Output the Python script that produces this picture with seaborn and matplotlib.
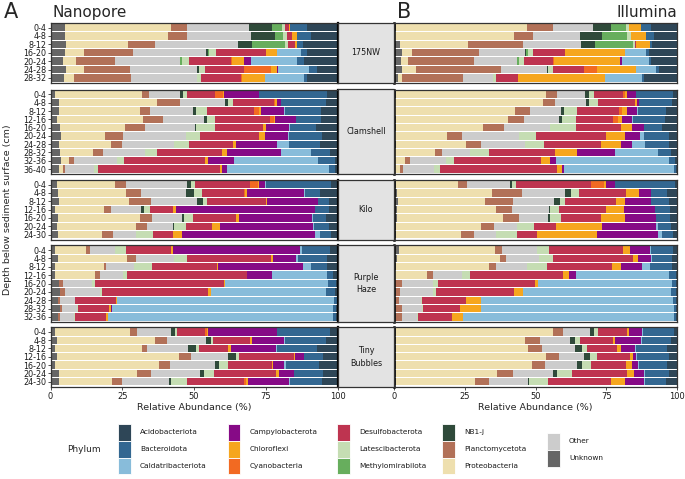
import numpy as np
import pandas as pd
import matplotlib.pyplot as plt
from matplotlib.patches import Rectangle
import seaborn as sns

# stacking order, left to right
phyla = ["Unknown", "Proteobacteria", "Planctomycetota", "Other", "NB1-j",
         "Methylomirabilota", "Latescibacterota", "Desulfobacterota",
         "Cyanobacteria", "Chloroflexi", "Campylobacterota",
         "Caldatribacteriota", "Bacteroidota", "Acidobacteriota"]
colors = ["#666666", "#EEDFAE", "#B27158", "#CCCCCC", "#2F4A3A",
          "#67AE5D", "#C5DDB3", "#BE3450", "#F26A22", "#F6A61E",
          "#860A86", "#88BCDA", "#336791", "#2E4657"]
palette = dict(zip(phyla, colors))

sites = ["175NW", "Clamshell", "Kilo", "Purple\nHaze", "Tiny\nBubbles"]

depths_175nw = ["0-4", "4-8", "8-12", "16-20", "20-24", "24-28", "28-32"]
depths_clam = ["0-4", "4-8", "8-12", "12-16", "16-20", "20-24", "24-28", "28-32", "32-36", "36-40"]
depths_kilo = ["0-4", "4-8", "8-12", "12-16", "16-20", "20-24", "24-30"]
depths_ph = ["0-4", "4-8", "8-12", "12-16", "16-20", "20-24", "24-28", "28-32", "32-36"]
depths_tb = ["0-4", "4-8", "8-12", "12-16", "16-20", "20-24", "24-30"]

# each row: relative abundance (%) per phylum, in the stacking order above
nano_175nw = [
    [5.1, 36.8, 5.7, 21.4, 8.1, 3.5, 1.0, 1.3, 0.2, 0.3, 0, 0, 5.9, 10.5],
    [5.1, 35.9, 6.6, 22.1, 8.4, 3.0, 1.2, 2.0, 0, 1.5, 0, 0, 5.1, 9.1],
    [5.5, 21.5, 9.3, 29.2, 4.7, 11.5, 0.9, 2.6, 0, 0.8, 0, 0, 2.1, 11.9],
    [5.2, 6.3, 17.2, 25.6, 0.5, 0.5, 2.3, 17.3, 0, 3.8, 0, 8.5, 2.0, 10.7],
    [4.5, 4.4, 13.4, 22.9, 0, 0.7, 2.2, 14.7, 0.6, 4.1, 2.2, 16.1, 2.6, 11.6],
    [5.5, 6.3, 15.8, 23.5, 0.8, 0, 2.1, 13.5, 9.4, 2.0, 0.5, 10.6, 2.8, 7.2],
    [4.7, 3.4, 19.8, 23.0, 0, 0, 1.5, 14.0, 0.3, 8.0, 0, 13.6, 1.2, 10.5],
]
illu_175nw = [
    [0.6, 46.3, 9.4, 13.9, 6.5, 5.3, 0.9, 0, 0, 4.4, 0, 0, 3.5, 9.1],
    [0.4, 41.9, 7.0, 16.5, 7.7, 8.9, 1.5, 0, 0, 5.3, 0, 0, 2.6, 8.3],
    [2.0, 24.0, 19.7, 20.4, 4.7, 13.6, 0.6, 0.3, 0, 5.2, 0, 0, 0.7, 8.7],
    [2.7, 3.5, 23.8, 16.1, 0.5, 0.8, 1.5, 11.5, 0, 21.0, 0, 7.4, 1.2, 9.9],
    [2.5, 2.6, 23.3, 15.1, 0, 0.6, 2.0, 10.3, 0.3, 23.3, 0.5, 9.7, 0.8, 9.1],
    [2.7, 5.0, 30.1, 16.2, 0.5, 0, 1.7, 11.0, 4.6, 13.9, 0, 6.8, 1.2, 6.4],
    [1.5, 1.2, 21.7, 10.7, 0, 0, 0.8, 7.7, 0.3, 30.6, 0, 13.1, 0.5, 11.8],
]
nano_clam = [
    [1.4, 30.6, 2.3, 10.7, 1.2, 0, 1.4, 9.7, 2.7, 0.5, 12.0, 0.2, 23.6, 3.7],
    [2.9, 34.0, 8.1, 15.9, 0.8, 0, 1.9, 14.3, 0.3, 0.5, 1.7, 0, 15.5, 4.0],
    [2.9, 28.2, 3.5, 15.1, 0.9, 0, 4.0, 16.4, 1.6, 0.7, 8.1, 0.2, 12.6, 5.7],
    [2.2, 30.0, 7.0, 14.2, 1.2, 0, 2.8, 18.9, 1.6, 0.3, 7.1, 0.2, 8.6, 5.8],
    [3.4, 22.6, 6.9, 17.5, 0.3, 0, 6.6, 16.9, 0, 0.8, 8.3, 0.2, 9.0, 7.6],
    [3.5, 15.5, 6.3, 21.9, 0, 0, 4.7, 20.6, 0, 2.2, 8.0, 0.3, 11.3, 5.5],
    [2.8, 18.4, 3.8, 17.9, 0, 0, 5.2, 15.5, 0, 1.2, 14.2, 4.2, 10.7, 6.1],
    [3.4, 11.4, 3.5, 14.8, 0, 0, 4.2, 22.6, 0, 1.5, 19.0, 10.4, 6.8, 2.5],
    [3.7, 2.7, 1.6, 15.1, 0, 0, 2.3, 28.3, 0, 0.9, 9.3, 29.1, 5.8, 1.0],
    [2.9, 1.4, 0.8, 10.2, 0, 0, 1.4, 42.5, 0, 0.5, 1.9, 35.3, 2.3, 0.8],
]
illu_clam = [
    [0.6, 53.1, 3.8, 10.0, 1.3, 0, 1.7, 10.4, 0.9, 0.5, 3.1, 0.2, 13.0, 1.4],
    [0.4, 52.4, 4.1, 11.0, 1.2, 0, 3.0, 13.0, 0.2, 0.6, 0.9, 0, 11.6, 1.7],
    [0.4, 42.5, 5.2, 11.0, 1.2, 0, 4.5, 14.8, 1.2, 1.7, 3.5, 0.4, 10.0, 3.8],
    [0.6, 39.6, 5.7, 12.4, 1.2, 0, 5.0, 13.0, 1.8, 1.5, 3.5, 0.2, 11.5, 4.1],
    [0.6, 30.7, 7.7, 16.3, 0, 0, 9.1, 15.7, 0, 4.0, 4.1, 0.2, 6.4, 5.2],
    [0.4, 18.5, 5.3, 20.1, 0, 0, 5.9, 24.8, 0, 6.8, 5.3, 1.1, 9.0, 2.8],
    [0.6, 25.0, 5.1, 15.5, 0, 0, 7.0, 20.1, 0, 7.1, 3.8, 4.7, 8.4, 2.8],
    [0.1, 14.5, 2.4, 9.9, 0, 0, 6.8, 23.3, 0, 7.7, 13.3, 15.3, 4.7, 2.0],
    [0, 3.9, 1.7, 12.8, 0, 0, 2.7, 30.9, 0, 3.3, 2.0, 39.9, 2.0, 0.8],
    [0.4, 1.7, 1.2, 10.7, 0, 0, 2.2, 41.3, 0, 1.9, 0.8, 38.6, 0.7, 0.5],
]
nano_kilo = [
    [2.2, 20.4, 3.8, 21.3, 1.4, 0, 1.2, 19.2, 2.7, 0.6, 2.1, 0.2, 22.7, 2.2],
    [2.6, 23.9, 5.0, 15.9, 2.7, 0, 2.8, 14.6, 0.3, 0.6, 20.0, 0.2, 5.4, 6.1],
    [2.9, 24.4, 7.8, 15.7, 2.3, 0, 1.2, 20.7, 0, 0.3, 17.6, 0, 3.8, 3.1],
    [1.6, 16.9, 2.7, 10.5, 0.8, 0, 2.3, 7.9, 0, 1.2, 48.3, 0, 4.7, 3.1],
    [2.6, 28.5, 4.1, 10.5, 0.8, 0, 3.0, 15.1, 0, 1.2, 25.3, 0.3, 4.5, 4.1],
    [2.2, 27.7, 3.8, 9.0, 0.3, 0, 4.1, 9.0, 0, 3.1, 32.4, 0.2, 5.4, 2.8],
    [2.6, 15.5, 3.7, 7.9, 0, 0, 6.1, 7.0, 0, 2.9, 46.6, 1.7, 3.8, 2.2],
]
illu_kilo = [
    [0.6, 22.1, 3.1, 15.0, 0.9, 0, 1.4, 26.3, 4.6, 0.9, 3.2, 0, 21.0, 0.8],
    [1.2, 33.3, 10.7, 15.2, 2.1, 0, 2.6, 16.6, 0, 4.7, 4.1, 0, 5.8, 3.5],
    [1.5, 30.7, 9.9, 14.5, 2.0, 0, 1.9, 17.7, 0, 3.4, 9.0, 0, 6.5, 2.8],
    [1.2, 34.8, 5.9, 12.8, 0.5, 0, 3.1, 16.8, 0, 6.1, 11.0, 0, 5.3, 2.6],
    [1.2, 37.2, 5.7, 10.3, 0.8, 0, 3.9, 14.2, 0, 8.5, 10.7, 0, 5.0, 2.6],
    [0.6, 30.1, 4.5, 8.3, 0, 0, 5.8, 8.0, 0, 16.3, 19.1, 0.6, 4.7, 2.0],
    [0.6, 23.0, 4.7, 7.7, 0, 0, 7.3, 7.2, 0, 21.1, 21.6, 1.5, 3.8, 1.4],
]
nano_ph = [
    [1.7, 10.5, 1.4, 9.0, 0, 0, 3.8, 15.7, 0, 0.6, 44.2, 0.6, 9.9, 2.6],
    [2.6, 23.9, 3.3, 13.4, 0, 0, 4.5, 29.1, 0, 0.7, 8.1, 0.6, 10.1, 3.7],
    [1.7, 16.8, 0.7, 9.9, 0, 0, 6.4, 22.4, 0, 0.6, 29.5, 2.8, 5.6, 3.7],
    [1.4, 14.0, 1.7, 8.1, 0, 0, 1.4, 41.9, 0, 0, 8.7, 19.2, 2.1, 1.4],
    [2.8, 0, 1.5, 10.1, 0, 0, 1.2, 44.8, 0, 0.5, 0, 35.7, 2.9, 0.5],
    [3.4, 0, 1.5, 12.5, 0, 0, 0.7, 36.9, 0, 0.8, 0, 40.2, 3.0, 1.0],
    [2.6, 0, 0.6, 5.2, 0, 0, 0.3, 14.2, 0, 0.3, 0, 75.6, 0.9, 0.3],
    [3.4, 0, 0.5, 5.5, 0, 0, 0.3, 10.7, 0, 0.6, 0.6, 76.8, 1.2, 0.4],
    [2.6, 0, 0.8, 4.7, 0, 0, 0.5, 10.7, 0, 0.6, 0, 78.6, 1.2, 0.4],
]
illu_ph = [
    [1.8, 34.0, 2.4, 12.3, 0, 0, 4.5, 26.0, 0, 2.4, 7.1, 0.4, 7.9, 1.4],
    [1.2, 36.4, 2.0, 11.6, 0, 0, 5.0, 28.3, 0, 1.8, 4.7, 0.4, 7.0, 1.8],
    [0.6, 33.1, 2.4, 11.0, 0, 0, 7.0, 23.0, 0, 3.3, 7.4, 2.6, 7.9, 1.8],
    [0.4, 11.2, 2.2, 10.2, 0, 0, 3.0, 32.7, 0, 2.0, 2.7, 32.7, 2.7, 0.2],
    [0, 0, 2.7, 10.9, 0, 0, 1.9, 34.1, 0, 1.4, 0, 47.3, 1.4, 0.2],
    [0.6, 0, 1.5, 11.7, 0, 0, 0.9, 27.7, 0, 3.0, 0, 52.5, 1.5, 0.5],
    [0.6, 0, 1.2, 7.7, 0, 0, 0.4, 15.6, 0, 5.1, 0, 68.1, 0.9, 0.5],
    [0.8, 0, 1.9, 7.3, 0, 0, 0.4, 13.0, 0, 7.3, 0, 68.2, 0.8, 0.2],
    [0.8, 0, 1.9, 5.5, 0, 0, 0.4, 11.7, 0, 4.1, 0, 74.4, 0.9, 0.2],
]
nano_tb = [
    [1.7, 26.1, 2.4, 11.9, 1.2, 0, 0.9, 9.8, 0.6, 0.3, 23.9, 0.2, 18.4, 2.6],
    [2.3, 34.0, 4.3, 13.4, 1.7, 0, 0.9, 13.0, 0, 0.5, 11.2, 0.3, 14.2, 4.1],
    [1.4, 30.6, 1.6, 14.1, 2.8, 0, 1.3, 10.1, 0, 0.9, 15.6, 0.3, 14.0, 7.2],
    [2.2, 42.5, 4.2, 12.8, 2.9, 0, 0.8, 19.4, 0, 0.3, 2.9, 0.2, 6.4, 5.2],
    [1.7, 36.1, 4.0, 15.5, 1.4, 0, 3.0, 15.6, 0, 0.3, 3.8, 0.5, 11.8, 6.3],
    [2.8, 27.4, 4.8, 17.1, 1.2, 0, 3.7, 21.5, 0, 0.9, 5.2, 0.3, 9.9, 5.1],
    [3.1, 18.3, 3.6, 16.3, 0.6, 0, 5.8, 19.8, 0.5, 0.7, 14.4, 0.3, 11.1, 5.5],
]
illu_tb = [
    [0.6, 55.7, 3.5, 9.6, 1.4, 0, 1.2, 10.3, 0, 0.7, 4.6, 0.4, 11.0, 1.1],
    [0.6, 45.8, 5.2, 10.6, 1.9, 0, 1.7, 11.6, 0, 0.9, 8.9, 0.4, 10.3, 2.2],
    [0.6, 46.6, 5.0, 11.8, 2.4, 0, 1.8, 10.6, 0, 1.5, 4.7, 0.4, 11.2, 3.4],
    [0.6, 53.1, 4.7, 8.9, 2.0, 0, 2.4, 11.9, 0, 0.8, 1.2, 0.4, 11.1, 3.0],
    [0.6, 48.1, 4.7, 11.3, 1.8, 0, 3.0, 12.6, 0, 2.0, 2.1, 0.4, 9.9, 3.5],
    [0.6, 35.8, 5.5, 14.4, 1.3, 0, 5.2, 19.5, 0, 2.4, 3.5, 0.4, 8.6, 2.8],
    [0.6, 28.1, 4.7, 13.8, 0.6, 0, 6.5, 22.4, 0, 4.7, 6.7, 0.4, 7.4, 4.0],
]

depths = [depths_175nw, depths_clam, depths_kilo, depths_ph, depths_tb]
nano = [nano_175nw, nano_clam, nano_kilo, nano_ph, nano_tb]
illu = [illu_175nw, illu_clam, illu_kilo, illu_ph, illu_tb]

sns.set_style("white")
plt.rcParams['font.family'] = ['DejaVu Sans']

W, H = 685, 479
fig = plt.figure(figsize=(W / 100, H / 100), dpi=100)


def px_axes(x0, y0, x1, y1):
    return fig.add_axes([x0 / W, 1 - y1 / H, (x1 - x0) / W, (y1 - y0) / H])


def draw_panel(ax, rows, dlabels):
    # stacked bars: cumulative totals drawn from the widest down
    recs = []
    for d, vals in zip(dlabels, rows):
        cum = np.cumsum(vals) / sum(vals) * 100
        for p, c in zip(phyla, cum):
            recs.append({"depth": d, "phylum": p, "cum": c})
    df = pd.DataFrame(recs)
    sns.barplot(data=df, x="cum", y="depth", hue="phylum", orient="y",
                order=dlabels, hue_order=phyla[::-1], palette=palette,
                dodge=False, width=0.88, saturation=1, errorbar=None,
                legend=False, edgecolor="none", linewidth=0, ax=ax)
    ax.set_xlim(0, 100)
    ax.set_ylim(len(dlabels) - 0.4, -0.6)
    ax.set_xlabel("")
    ax.set_ylabel("")
    for s in ax.spines.values():
        s.set_color("#333333")
        s.set_linewidth(0.9)


facet_y = [(22.5, 83), (89.5, 174), (179.5, 239.5), (245, 322), (327, 386.5)]
ax_a = (50.5, 337.5)
ax_b = (394, 677)

for i, (y0, y1) in enumerate(facet_y):
    # facet strip between the two panels
    fig.patches.append(Rectangle((337.5 / W, 1 - y1 / H), (394 - 337.5) / W, (y1 - y0) / H,
                                 transform=fig.transFigure, facecolor="#E3E3E3",
                                 edgecolor="#333333", lw=0.9, zorder=0))
    fig.text(366 / W, 1 - (y0 + y1) / 2 / H, sites[i], ha="center", va="center",
             fontsize=5.8, color="#1a1a1a", linespacing=1.5)

    axA = px_axes(ax_a[0], y0, ax_a[1], y1)
    draw_panel(axA, nano[i], depths[i])
    axA.tick_params(axis="y", labelsize=5.8, length=2, width=0.6, color="#333333",
                    pad=1, labelcolor="#1a1a1a", left=True)
    axA.spines["right"].set_color("black")
    axA.spines["right"].set_linewidth(1.6)
    axB = px_axes(ax_b[0], y0, ax_b[1], y1)
    draw_panel(axB, illu[i], depths[i])
    axB.set_yticks([])
    axB.spines["left"].set_color("black")
    axB.spines["left"].set_linewidth(1.8)

    for ax in (axA, axB):
        if i == len(facet_y) - 1:
            ax.set_xticks([0, 25, 50, 75, 100])
            ax.tick_params(axis="x", labelsize=6, length=2.5, width=0.6,
                           color="#333333", pad=1.5, labelcolor="#1a1a1a", bottom=True)
        else:
            ax.set_xticks([])

fig.text(4 / W, 1 - 2 / H, "A", fontsize=15, va="top", ha="left")
fig.text(52 / W, 1 - 17 / H, "Nanopore", fontsize=11, va="baseline", ha="left")
fig.text(397 / W, 1 - 2 / H, "B", fontsize=15, va="top", ha="left")
fig.text(677 / W, 1 - 17 / H, "Illumina", fontsize=11, va="baseline", ha="right")
fig.text(8 / W, 1 - 210 / H, "Depth below sediment surface (cm)", rotation=90,
         fontsize=6.8, va="center", ha="center")
fig.text(194 / W, 1 - 407.5 / H, "Relative Abundance (%)", fontsize=6.8, ha="center", va="center")
fig.text(535 / W, 1 - 407.5 / H, "Relative Abundance (%)", fontsize=6.8, ha="center", va="center")

# legend
legend_cols = [
    (118, ["Acidobacteriota", "Bacteroidota", "Caldatribacteriota"], 424),
    (228, ["Campylobacterota", "Chloroflexi", "Cyanobacteria"], 424),
    (337, ["Desulfobacterota", "Latescibacterota", "Methylomirabilota"], 424),
    (442, ["NB1-j", "Planctomycetota", "Proteobacteria"], 424),
    (547, ["Other", "Unknown"], 433),
]
fig.text(67 / W, 1 - 449 / H, "Phylum", fontsize=6.5, va="center", ha="left")
for x0, names, ytop in legend_cols:
    for k, name in enumerate(names):
        yy = ytop + k * 16.8
        fig.patches.append(Rectangle((x0 / W, 1 - (yy + 16.8) / H), 12.5 / W, 16.8 / H,
                                     transform=fig.transFigure,
                                     facecolor=palette[name], edgecolor="white", lw=0.6))
        fig.text((x0 + 22) / W, 1 - (yy + 8.4) / H, name, fontsize=5.3,
                 va="center", ha="left", color="#1a1a1a")

fig.savefig("out.png", dpi=100)
plt.close()
